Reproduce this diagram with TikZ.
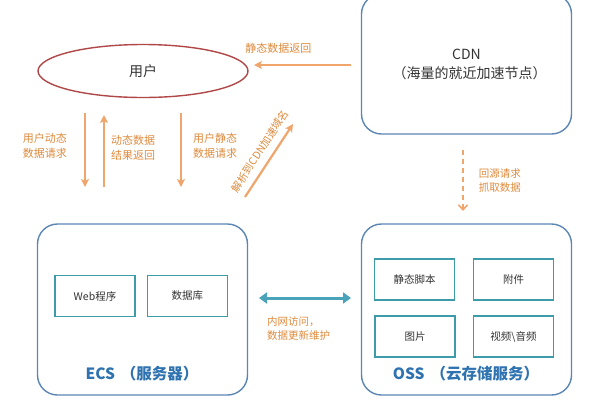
\documentclass[tikz,border=0pt]{standalone}
\usepackage{fontspec}
\setmainfont{Noto Sans CJK SC}
\usepackage{xcolor}
\usetikzlibrary{arrows.meta,positioning,shapes.geometric}
\definecolor{boxblue}{HTML}{5B86B4}
\definecolor{inteal}{HTML}{3E9BAA}
\definecolor{linkteal}{HTML}{4AA3B8}
\definecolor{userred}{HTML}{B04848}
\definecolor{arrorange}{HTML}{EFA56B}
\definecolor{txtorange}{HTML}{DE8A3C}
\definecolor{titleblue}{HTML}{2E72B0}
\definecolor{txtgray}{HTML}{333333}
\newcommand{\lpar}{\hspace{6pt}（}
\newcommand{\rpar}{）\hspace{6pt}}

\begin{document}
\begin{tikzpicture}[x=1pt, y=-1pt,
  font=\fontsize{11}{15}\selectfont,
  bigbox/.style={draw=boxblue, line width=1.4pt, rounded corners=20pt,
                 minimum width=210pt, text=txtgray, align=center},
  inbox/.style={draw=inteal, line width=1.4pt, minimum width=80pt,
                minimum height=41pt, text=txtgray,
                font=\fontsize{10.5}{12}\selectfont},
  title/.style={text=titleblue, font=\fontsize{15.5}{17}\selectfont\bfseries},
  lbl/.style={text=txtorange, align=left, inner sep=2pt},
  arr/.style={draw=arrorange, line width=2.2pt,
              -{Stealth[length=8pt, width=8pt, inset=2pt]}}]
\useasboundingbox (0,0) rectangle (600,400);
% top row
\node[ellipse, draw=userred, line width=1.4pt, minimum width=210pt,
      minimum height=53pt, text=txtgray, font=\fontsize{14}{16}\selectfont]
      (user) at (143,71) {用户};
\node[bigbox, minimum height=140pt, font=\fontsize{14}{19}\selectfont]
      (cdn) at (466.5,64) {CDN\\\lpar 海量的就近加速节点\rpar};
% bottom row
\node[bigbox, minimum height=171pt] (ecs) at (142.5,309.5) {};
\node[bigbox, minimum height=171pt] (oss) at (466.5,309.5) {};
\node[inbox] (web) at (95,296) {Web程序};
\node[inbox, right=11pt of web] (db) {数据库};
\node[title] (ecsname) at (142,374) {ECS\lpar 服务器\rpar};
\node[inbox] (script) at (414.5,279.5) {静态脚本};
\node[inbox] (attach) at (513.5,279.5) {附件};
\node[inbox] (pic) at (415,336.5) {图片};
\node[inbox] (media) at (513.5,336.5) {视频\textbackslash 音频};
\node[title] (ossname) at (466,374) {OSS\lpar 云存储服务\rpar};
% free ends
\coordinate (ret1) at (351,65);  \coordinate (ret2) at (254,65);
\coordinate (dyn1) at (85,113);  \coordinate (dyn2) at (85,187);
\coordinate (res1) at (104,187); \coordinate (res2) at (104,115);
\coordinate (sta1) at (181,113); \coordinate (sta2) at (181,187);
\coordinate (dns1) at (245,197); \coordinate (dns2) at (293,124);
\coordinate (src1) at (463,150); \coordinate (src2) at (463,211);
\coordinate (lan1) at (259,298); \coordinate (lan2) at (351,298);
% connectors
\draw[arr] (ret1) -- node[lbl, pos=0.75, above=8pt] {静态数据返回} (ret2);
\draw[arr] (dyn1) -- node[lbl, pos=0.45, left=15pt] {用户动态\\数据请求} (dyn2);
\draw[arr] (res1) -- node[lbl, pos=0.55, right=4pt] {动态数据\\结果返回} (res2);
\draw[arr] (sta1) -- node[lbl, pos=0.45, right=9pt] {用户静态\\数据请求} (sta2);
\draw[arr] (dns1) -- (dns2);
\node[lbl, rotate=57, inner sep=1pt, font=\fontsize{10.5}{12}\selectfont]
      (dnstext) at (260,151) {解析到CDN加速域名};
\draw[arr, line width=1.6pt, dash pattern=on 5pt off 4pt,
      -{Straight Barb[length=5pt, width=9pt]}]
      (src1) -- node[lbl, midway, right=13pt, font=\fontsize{10.5}{14}\selectfont]
      {回源请求\\抓取数据} (src2);
\draw[draw=linkteal, line width=3pt,
      {Triangle[length=8pt, width=11pt]}-{Triangle[length=8pt, width=11pt]}]
      (lan1) -- (lan2);
\node[lbl, anchor=north west, font=\fontsize{10.5}{14}\selectfont]
      (lantext) at (265,314) {内网访问，\\数据更新维护};
\end{tikzpicture}
\end{document}
